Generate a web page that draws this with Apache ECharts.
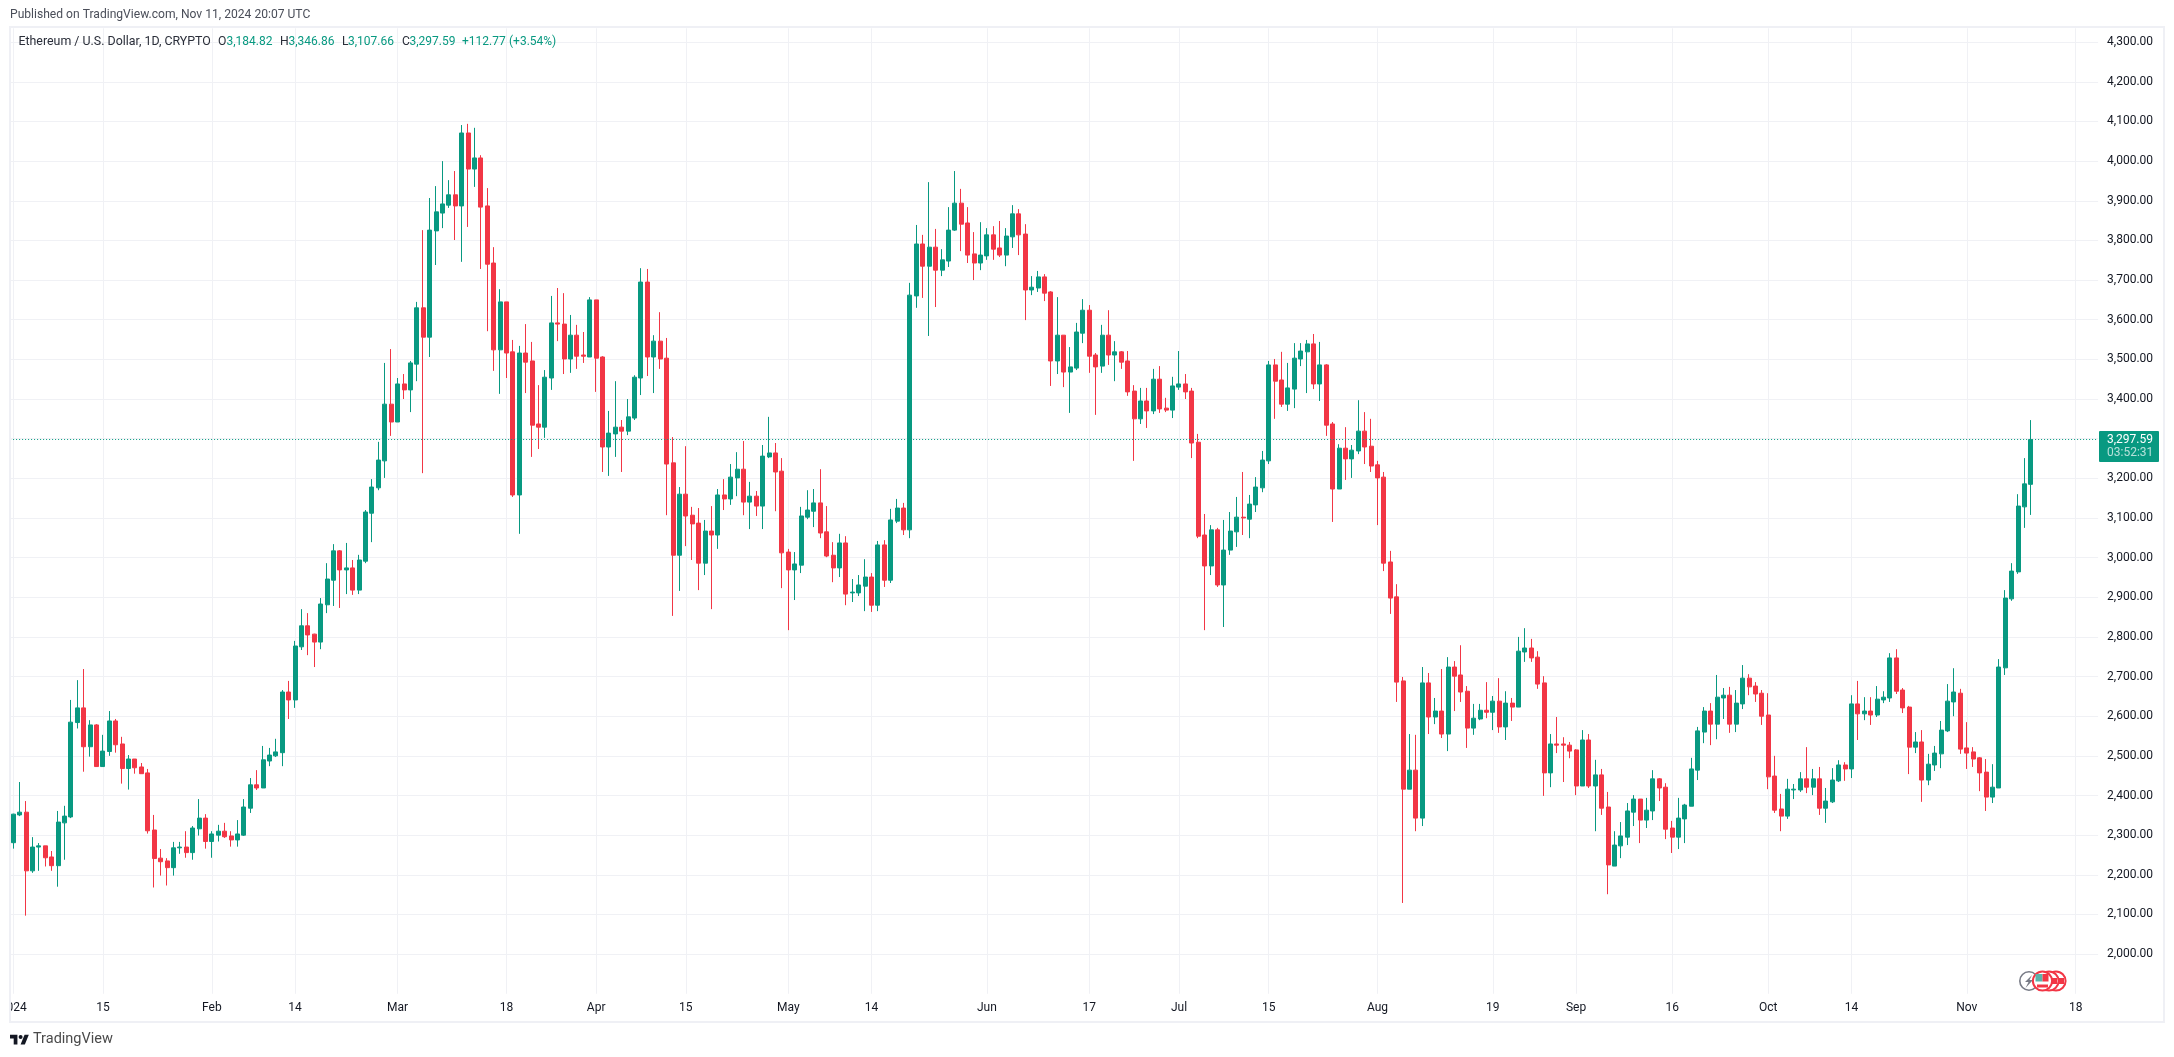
<!DOCTYPE html>
<html><head><meta charset="utf-8">
<style>html,body{margin:0;padding:0;background:#fff}#c{width:2174px;height:1057px}</style>
<script src="https://cdn.jsdelivr.net/npm/echarts@6/dist/echarts.min.js"></script>
</head><body><div id="c"></div>
<script>
const opens=[2281,2351,2358,2210,2270,2273,2245,2223,2331,2346,
2584,2621,2523,2578,2473,2511,2588,2530,2468,2492,
2472,2457,2313,2242,2235,2218,2268,2270,2256,2316,
2343,2284,2300,2310,2298,2288,2300,2368,2427,2419,
2487,2500,2508,2661,2641,2775,2828,2807,2787,2881,
2943,3017,2969,2974,2918,2991,3112,3176,3244,3387,
3342,3438,3423,3488,3630,3556,3824,3869,3889,3915,
3887,4071,3980,4008,3887,3743,3524,3645,3519,3158,
3516,3496,3337,3329,3453,3592,3589,3501,3561,3511,
3506,3650,3506,3279,3312,3329,3319,3352,3453,3695,
3506,3546,3503,3239,3006,3160,3107,3087,2986,3067,
3057,3158,3148,3201,3223,3140,3155,3130,3254,3264,
3218,3014,2969,2981,3102,3117,3138,3065,3006,2974,
3037,2911,2911,2928,2951,2880,3032,2943,3092,3125,
3070,3660,3791,3735,3783,3725,3748,3826,3894,3844,
3766,3743,3761,3814,3781,3763,3809,3867,3816,3675,
3680,3708,3670,3496,3561,3468,3478,3566,3624,3511,
3483,3561,3511,3519,3496,3420,3350,3395,3370,3450,
3377,3372,3430,3438,3420,3291,3057,2979,3070,2931,
3019,3065,3102,3097,3133,3176,3244,3486,3448,3387,
3425,3501,3519,3539,3438,3486,3337,3173,3276,3249,
3269,3319,3281,3234,3203,2989,2901,2689,2416,2464,
2343,2684,2598,2613,2555,2724,2704,2663,2570,2593,
2615,2610,2638,2573,2633,2623,2762,2772,2749,2684,
2457,2530,2530,2527,2515,2424,2540,2424,2452,2371,
2222,2273,2295,2358,2391,2338,2361,2442,2421,2318,
2295,2341,2373,2464,2560,2613,2580,2646,2653,2580,
2631,2696,2676,2658,2603,2449,2366,2348,2414,2414,
2442,2421,2442,2368,2384,2437,2477,2467,2631,2606,
2613,2603,2641,2646,2747,2666,2623,2522,2535,2439,
2477,2505,2563,2636,2658,2520,2510,2495,2459,2396,
2419,2722,2896,2964,3128,3184.82];
const closes=[2353,2358,2210,2270,2273,2243,2223,2333,2348,2585,
2621,2523,2578,2473,2512,2588,2528,2468,2492,2470,
2455,2311,2241,2233,2218,2268,2270,2256,2318,2343,
2284,2303,2310,2296,2288,2303,2371,2427,2419,2490,
2502,2510,2661,2641,2777,2828,2805,2787,2883,2946,
3017,2969,2974,2918,2994,3115,3178,3246,3387,3342,
3438,3423,3491,3630,3556,3826,3872,3892,3915,3887,
4071,3980,4008,3884,3740,3524,3645,3516,3158,3516,
3493,3334,3329,3455,3592,3589,3501,3561,3508,3508,
3650,3503,3279,3314,3329,3319,3355,3455,3695,3506,
3546,3501,3236,3006,3160,3105,3085,2986,3067,3057,
3158,3148,3203,3223,3140,3155,3130,3256,3264,3216,
3012,2969,2984,3105,3120,3138,3062,3004,2974,3037,
2908,2913,2931,2951,2880,3032,2943,3095,3125,3070,
3662,3791,3735,3783,3725,3751,3826,3894,3841,3763,
3743,3763,3814,3778,3763,3811,3867,3814,3675,3682,
3708,3667,3496,3561,3468,3481,3569,3624,3508,3481,
3561,3511,3519,3493,3418,3350,3395,3370,3450,3375,
3372,3433,3438,3418,3289,3054,2979,3070,2931,3019,
3067,3102,3100,3135,3178,3246,3486,3445,3387,3428,
3503,3521,3539,3438,3486,3334,3173,3276,3249,3271,
3319,3279,3231,3201,2986,2898,2686,2416,2464,2343,
2684,2598,2613,2555,2724,2701,2661,2570,2595,2615,
2610,2638,2573,2633,2623,2764,2772,2747,2681,2457,
2530,2527,2527,2512,2424,2540,2424,2452,2368,2225,
2275,2298,2361,2391,2338,2363,2442,2419,2315,2295,
2343,2376,2467,2563,2613,2580,2648,2653,2580,2633,
2696,2674,2656,2600,2447,2363,2348,2416,2416,2442,
2421,2442,2368,2386,2439,2477,2467,2631,2606,2613,
2603,2643,2648,2747,2663,2621,2522,2535,2439,2479,
2507,2565,2638,2661,2517,2507,2492,2457,2396,2421,
2724,2898,2966,3130,3186,3297.59];
const highs=[2354,2434,2386,2295,2280,2273,2260,2361,2374,2641,
2691,2719,2590,2580,2553,2613,2593,2548,2502,2492,
2482,2467,2351,2265,2242,2283,2283,2310,2323,2391,
2353,2310,2326,2331,2310,2338,2391,2444,2464,2525,
2520,2543,2666,2689,2790,2870,2860,2808,2898,2986,
3034,3019,3037,2994,3007,3120,3198,3292,3491,3526,
3453,3463,3496,3645,3826,3907,3937,4000,3952,3975,
4091,4094,4084,4015,3932,3783,3677,3645,3549,3534,
3589,3544,3435,3473,3660,3680,3667,3612,3587,3569,
3657,3650,3508,3370,3445,3347,3400,3460,3730,3728,
3561,3619,3554,3304,3178,3281,3128,3125,3095,3130,
3173,3198,3236,3266,3294,3191,3168,3284,3355,3289,
3251,3022,3014,3128,3170,3173,3223,3130,3039,3060,
3054,2946,2956,2996,2961,3042,3044,3123,3148,3138,
3693,3839,3814,3947,3829,3778,3884,3975,3930,3884,
3821,3846,3831,3836,3849,3831,3889,3879,3841,3710,
3723,3715,3672,3657,3561,3531,3592,3652,3637,3516,
3587,3624,3546,3521,3521,3435,3428,3428,3476,3483,
3403,3456,3521,3463,3428,3312,3110,3082,3075,3095,
3115,3153,3216,3158,3203,3269,3496,3501,3519,3491,
3541,3541,3549,3564,3544,3488,3342,3286,3329,3284,
3397,3367,3350,3244,3216,3017,2933,2699,2555,2553,
2724,2709,2646,2719,2749,2739,2779,2676,2631,2631,
2686,2651,2696,2663,2646,2800,2822,2795,2764,2701,
2555,2598,2547,2535,2517,2565,2555,2490,2467,2409,
2310,2333,2381,2401,2391,2394,2464,2444,2431,2336,
2394,2379,2495,2573,2623,2633,2704,2671,2674,2666,
2729,2706,2686,2666,2658,2500,2404,2442,2429,2459,
2522,2467,2472,2419,2469,2489,2484,2653,2689,2648,
2648,2676,2663,2759,2769,2671,2626,2560,2565,2505,
2525,2588,2681,2721,2669,2585,2522,2497,2492,2479,
2744,2918,2986,3160,3251,3346.86];
const lows=[2266,2348,2097,2205,2210,2221,2210,2170,2238,2343,
2569,2460,2498,2473,2473,2500,2508,2430,2415,2455,
2455,2304,2168,2198,2173,2198,2253,2243,2238,2299,
2266,2243,2284,2293,2271,2271,2298,2356,2414,2419,
2474,2497,2474,2593,2621,2767,2754,2724,2769,2860,
2878,2873,2908,2906,2908,2986,3039,3170,3201,3307,
3342,3400,3367,3445,3213,3506,3738,3831,3882,3801,
3746,3834,3935,3728,3571,3471,3413,3453,3153,3060,
3415,3254,3274,3302,3423,3546,3463,3466,3476,3491,
3506,3418,3216,3206,3254,3216,3309,3347,3410,3458,
3415,3476,3107,2853,2916,3029,2994,2918,2956,2870,
3022,3120,3133,3155,3107,3072,3105,3072,3251,3117,
2923,2817,2893,2961,3097,3077,3049,3001,2938,2951,
2880,2888,2903,2865,2863,2865,2926,2936,3087,3057,
3049,3630,3655,3559,3632,3710,3733,3824,3773,3743,
3700,3725,3751,3751,3758,3735,3781,3763,3599,3662,
3670,3647,3433,3463,3430,3365,3473,3541,3466,3360,
3466,3486,3445,3476,3408,3244,3337,3327,3362,3365,
3367,3352,3423,3400,3251,3049,2817,2956,2926,2825,
3007,3027,3057,3049,3115,3165,3236,3350,3380,3370,
3377,3483,3415,3425,3395,3307,3090,3173,3196,3201,
3261,3236,3216,3082,2966,2858,2636,2129,2416,2310,
2323,2555,2580,2545,2512,2613,2636,2520,2553,2590,
2595,2565,2558,2540,2588,2623,2737,2737,2669,2399,
2421,2507,2434,2494,2401,2424,2419,2310,2351,2151,
2222,2242,2275,2323,2280,2318,2338,2386,2290,2255,
2265,2280,2373,2439,2532,2527,2542,2593,2558,2560,
2618,2653,2636,2578,2416,2356,2310,2341,2391,2409,
2406,2401,2351,2331,2381,2434,2437,2444,2540,2590,
2578,2598,2633,2636,2656,2608,2454,2507,2384,2426,
2462,2469,2560,2600,2505,2467,2472,2411,2361,2381,
2419,2704,2891,2959,3075,3107.66];
const tickLabels={0:'2024',14:'15',31:'Feb',44:'14',60:'Mar',77:'18',91:'Apr',105:'15',121:'May',134:'14',152:'Jun',168:'17',182:'Jul',196:'15',213:'Aug',231:'19',244:'Sep',259:'16',274:'Oct',287:'14',305:'Nov',322:'18'};
const slots=326;
const categories=[];
for(let i=0;i<slots;i++){const d=new Date(Date.UTC(2024,0,1+i));categories.push(d.toISOString().slice(0,10));}
const lastClose=closes[closes.length-1];
const headerTitle='Ethereum / U.S. Dollar, 1D, CRYPTO';
const published='Published on TradingView.com, Nov 11, 2024 20:07 UTC';
const lastValues=['3,184.82','3,346.86','3,107.66','3,297.59','+112.77','(+3.54%)'];

const UP='#089981',DOWN='#F23645',GRID='#F0F1F5',FONT='Roboto, sans-serif',TXT='#131722';
const data=opens.map((o,i)=>[o,closes[i],lows[i],highs[i]]);
const chart=echarts.init(document.getElementById('c'),null,{renderer:'canvas',width:2174,height:1057,devicePixelRatio:1});
chart.setOption({
 animation:false,backgroundColor:'#fff',
 grid:{left:10.1,top:28.3,width:2088,bottom:63.25,outerBoundsMode:'none'},
 xAxis:{type:'category',data:categories,boundaryGap:true,
  axisLine:{show:false},axisTick:{show:false},
  axisLabel:{interval:(i)=>tickLabels[i]!==undefined,formatter:(v,i)=>tickLabels[i]||'',color:TXT,fontFamily:FONT,fontSize:12,margin:8,hideOverlap:false},
  splitLine:{show:true,alignWithLabel:true,interval:(i)=>tickLabels[i]!==undefined,lineStyle:{color:GRID,width:1}}},
 yAxis:{type:'value',position:'right',min:1900,max:4335,interval:100,scale:true,
  axisLine:{show:false},axisTick:{show:false},
  axisLabel:{margin:9,color:TXT,fontFamily:FONT,fontSize:12,showMinLabel:false,showMaxLabel:false,
   formatter:v=>v.toLocaleString('en-US',{minimumFractionDigits:2,maximumFractionDigits:2})},
  splitLine:{show:true,showMinLine:false,showMaxLine:false,lineStyle:{color:GRID,width:1}}},
 series:[{type:'candlestick',data:data,barWidth:4.5,
  itemStyle:{color:UP,color0:DOWN,borderColor:UP,borderColor0:DOWN,borderWidth:1},
  markLine:{silent:true,symbol:'none',label:{show:false},
   lineStyle:{color:UP,type:[1,2],width:1},data:[{yAxis:lastClose}]}}]
});
const y=chart.convertToPixel({yAxisIndex:0},lastClose);
const t=(x,yy,text,fill,size,extra)=>Object.assign({type:'text',z:200,silent:true,x:x,y:yy,style:{text:text,fill:fill,font:(size||12)+'px '+FONT,verticalAlign:'middle',align:'left'}},extra||{});
const INK='#2A2E39';
const graphics=[
 {type:'rect',z:150,silent:true,shape:{x:0,y:995,width:9,height:26},style:{fill:'#fff'}},
 {type:'rect',z:160,silent:true,shape:{x:10,y:27,width:2154,height:995},style:{fill:'none',stroke:'#EFF0F5',lineWidth:2}},
 t(10,15,published,'#4A4E59',12.1),
 t(18.4,42,headerTitle,INK,12.4),
 t(218,42,'O',INK,12.2),t(226.5,42,lastValues[0],UP,12),
 t(280,42,'H',INK,12.2),t(288.5,42,lastValues[1],UP,12),
 t(342,42,'L',INK,12.2),t(348,42,lastValues[2],UP,12),
 t(402,42,'C',INK,12.2),t(409.5,42,lastValues[3],UP,12),
 t(462,42,lastValues[4],UP,12),t(509,42,lastValues[5],UP,12),
 {type:'rect',z:170,silent:true,shape:{x:2099,y:y-8.6,width:60,height:31,r:1},style:{fill:UP}},
 t(2107,y,lastValues[3],'#fff',12,{z:171}),
 t(2107,y+13,'03:52:31','rgba(255,255,255,0.7)',12,{z:171}),
 {type:'polygon',z:180,silent:true,x:10,y:1032.5,scaleX:0.53,scaleY:0.55,shape:{points:[[14,22],[7,22],[7,11],[0,11],[0,4],[14,4]]},style:{fill:'#131722'}},
 {type:'polygon',z:180,silent:true,x:10,y:1032.5,scaleX:0.53,scaleY:0.55,shape:{points:[[28,22],[20,22],[27.5,4],[35.5,4]]},style:{fill:'#131722'}},
 {type:'circle',z:180,silent:true,shape:{cx:20.6,cy:1036.9,r:2},style:{fill:'#131722'}},
 t(33,1039,'TradingView','#4A4A4A',14.5),
 {type:'circle',z:181,silent:true,shape:{cx:2029,cy:981,r:9.2},style:{fill:'#fff',stroke:'#787B86',lineWidth:1.6}},
 {type:'polygon',z:182,silent:true,shape:{points:[[2032,975],[2025,982],[2028.5,982],[2025.5,988],[2033,980],[2029.5,980]]},style:{fill:'#787B86'}},
 {type:'circle',z:183,silent:true,shape:{cx:2056,cy:981,r:9.6},style:{fill:'#fff',stroke:DOWN,lineWidth:2}},
 {type:'rect',z:183,silent:true,shape:{x:2059,y:978,width:5,height:6},style:{fill:DOWN}},
 {type:'circle',z:184,silent:true,shape:{cx:2049,cy:981,r:9.6},style:{fill:'#fff',stroke:DOWN,lineWidth:2}},
 {type:'rect',z:184,silent:true,shape:{x:2052,y:978,width:5,height:6},style:{fill:DOWN}},
 {type:'circle',z:185,silent:true,shape:{cx:2042.5,cy:981,r:9.6},style:{fill:'#fff',stroke:DOWN,lineWidth:2}},
 {type:'rect',z:186,silent:true,shape:{x:2035.5,y:974,width:7,height:7.5},style:{fill:'#5AB3AA'}},
 {type:'rect',z:186,silent:true,shape:{x:2042.5,y:974,width:6,height:7.5},style:{fill:DOWN}},
 {type:'rect',z:186,silent:true,shape:{x:2037,y:984.5,width:11,height:3},style:{fill:DOWN}}
];
chart.setOption({graphic:graphics});
</script></body></html>
